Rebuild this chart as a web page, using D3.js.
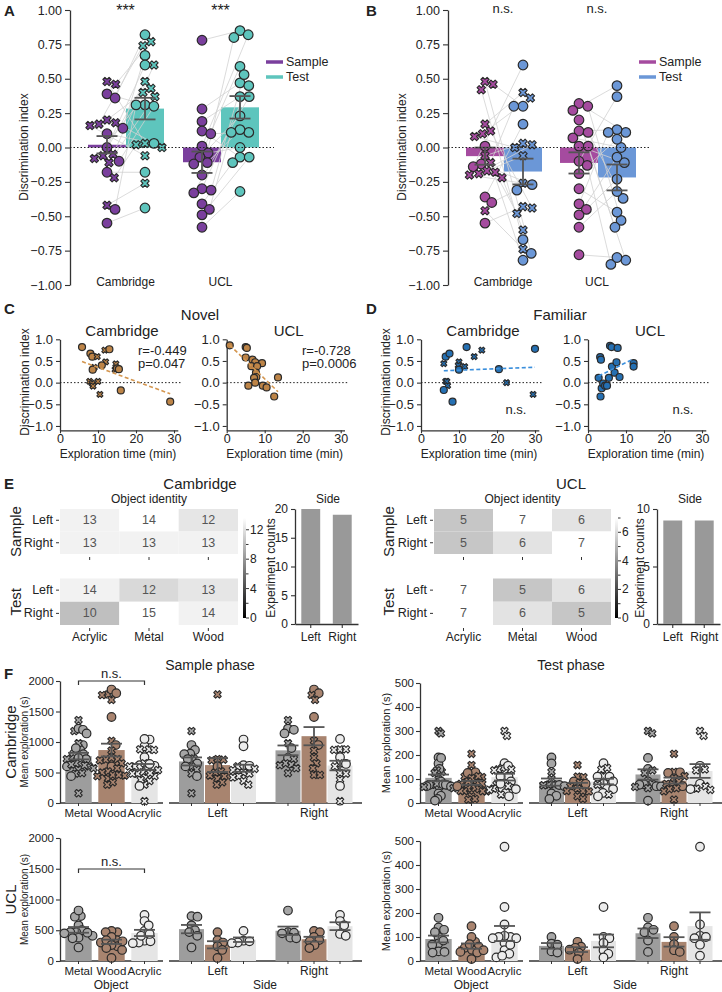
<!DOCTYPE html>
<html lang="en">
<head>
<meta charset="UTF-8">
<title>Object recognition - discrimination and exploration</title>
<script src="https://cdn.jsdelivr.net/npm/d3@7"></script>
<style>
  body { margin: 0; background: #fff; }
  svg text { font-family: "Liberation Sans", Arial, sans-serif; }
</style>
</head>
<body>
<svg id="fig" width="722" height="992"></svg>
<script>
// ---------------- data ----------------
const sites = ["Cambridge", "UCL"];
const phases = ["Sample", "Test"];

// A: novel object, discrimination index per session (sample[i] pairs with test[i])
const novCamSample = [0.48, 0.46, 0.39, 0.36, 0.20, 0.18, 0.17, 0.16, 0.14, 0.10, 0.00, -0.05, -0.06, -0.08, -0.10, -0.11, -0.18, -0.22, -0.42, -0.45, -0.55];
const novCamTest   = [0.03, 0.77, 0.31, 0.82, 0.40, 0.00, 0.74, -0.06, 0.67, 0.03, 0.60, 0.60, 0.48, 0.43, 0.30, 0.37, -0.18, 0.02, -0.26, 0.31, -0.44];
const novCamMarks  = "xxooxxxxoooxxxoxoxxoo";
const novUclSample = [0.78, 0.28, 0.19, 0.12, 0.10, 0.01, -0.04, -0.07, -0.11, -0.12, -0.20, -0.30, -0.31, -0.33, -0.41, -0.45, -0.49, -0.58];
const novUclTest   = [0.85, 0.47, 0.37, -0.07, 0.11, 0.82, 0.00, 0.59, 0.13, 0.23, 0.80, 0.45, 0.53, 0.37, -0.11, 0.11, -0.07, -0.32];

// B: familiar object
const famCamSample = [0.48, 0.46, 0.42, 0.17, 0.12, 0.10, 0.08, 0.01, -0.06, -0.11, -0.12, -0.14, -0.17, -0.18, -0.19, -0.20, -0.22, -0.36, -0.40, -0.46, -0.55];
const famCamTest   = [-0.77, 0.30, -0.67, 0.40, -0.44, 0.36, 0.00, -0.82, 0.03, 0.30, -0.27, 0.60, -0.06, -0.48, 0.02, -0.26, -0.60, 0.17, -0.31, -0.74, -0.43];
const famCamSampleMarks = "xxxxxxxoxxooxxxxxooxo";
const famCamTestMarks   = "oooxxxxoxoooxxxxxooxx";
const famUclSample = [0.32, 0.30, 0.27, 0.20, 0.12, 0.11, 0.07, 0.01, 0.01, -0.10, -0.13, -0.19, -0.30, -0.41, -0.45, -0.49, -0.58, -0.78];
const famUclTest   = [0.11, -0.53, 0.45, -0.82, 0.13, -0.37, 0.00, -0.11, -0.58, 0.37, -0.85, 0.06, -0.47, 0.11, -0.23, -0.07, -0.32, -0.80];

// C: novel, exploration time (min) vs discrimination index
const novCamTime = [5.8, 8, 8.5, 9, 8.6, 9.8, 11.8, 13, 12, 11, 14.7, 14.5, 15, 15.5, 16, 7.8, 8.5, 10, 8.7, 10.5, 29];
const novCamDI   = [0.82, 0.67, 0.60, 0.35, 0.30, 0.60, 0.75, 0.77, 0.48, 0.40, 0.43, 0.30, 0.33, 0.31, -0.18, 0.03, -0.02, 0.03, -0.08, -0.27, -0.44];
const novCamTimeMarks = "oooxoxxoxoxxoooxxxxxo";
const novUclTime = [0.8, 5, 5.3, 5, 6.8, 7.5, 9.3, 6.5, 8, 7.7, 7.8, 7.2, 5.7, 7.5, 9.5, 10.5, 12.5, 13.5];
const novUclDI   = [0.86, 0.82, 0.80, 0.58, 0.53, 0.47, 0.45, 0.38, 0.38, 0.23, 0.13, 0.11, -0.07, 0.00, -0.07, -0.11, -0.32, 0.12];

// D: familiar
const famCamTime = [6, 6.5, 7.5, 6.5, 6.8, 7, 6, 8.3, 10, 9.8, 10, 11.5, 12, 14, 16, 20.5, 22.5, 29.5, 30];
const famCamDI   = [0.44, 0.60, 0.67, 0.03, 0.03, -0.07, -0.17, -0.44, 0.48, 0.40, 0.30, 0.37, 0.82, 0.60, 0.75, 0.31, 0.00, -0.27, 0.78];
const famCamTimeMarks = "xooxxxooxxoxoxxoxxo";
const famUclTime = [3.2, 3.4, 5.8, 6.2, 7.8, 2.8, 3.3, 3.6, 4, 4.5, 5, 5.5, 6.3, 7, 7.5, 8.3, 12, 12];
const famUclDI   = [0.59, 0.53, 0.85, 0.82, 0.80, 0.11, -0.32, -0.13, -0.02, -0.07, -0.07, 0.11, 0.37, 0.23, 0.47, 0.13, 0.45, 0.37];

// E: experiment counts, rows Left/Right, columns Acrylic/Metal/Wood
const heatObjects = ["Acrylic", "Metal", "Wood"];
const sides = ["Left", "Right"];
const camSampleCounts = [[13, 14, 12], [13, 13, 13]];
const camTestCounts   = [[14, 12, 13], [10, 15, 14]];
const uclSampleCounts = [[5, 7, 6], [5, 6, 7]];
const uclTestCounts   = [[7, 5, 6], [7, 6, 5]];
const camSideCounts = [20, 19];
const uclSideCounts = [9, 9];

// F: mean exploration (s), per side, objects in order Metal / Wood / Acrylic
const fObjects = ["Metal", "Wood", "Acrylic"];
const camSampleLeft = [
  [1180, 950, 870, 810, 800, 730, 720, 650, 600, 600, 550, 480, 440, 160],
  [1780, 720, 710, 700, 600, 520, 500, 450, 440, 400, 340, 300],
  [1040, 930, 620, 610, 600, 560, 540, 500, 480, 440, 420, 360, 300]];
const camSampleLeftMarks = ["xooooxooxoxxox", "xxxxoxxxxxxx", "ooooxxxxxxxxx"];
const camSampleRight = [
  [1360, 1220, 1200, 1140, 980, 900, 740, 720, 650, 630, 620, 570, 490],
  [1860, 1800, 1770, 1690, 1410, 1020, 950, 860, 740, 650, 570, 460, 460],
  [1050, 880, 880, 870, 750, 650, 640, 600, 490, 480, 380, 280, 30]];
const camSampleRightMarks = ["xoooxooxxxxxx", "ooxxoxoxxxxxx", "oxxxoxoxxxxox"];
const camTestLeft = [
  [190, 165, 130, 100, 78, 76, 75, 74, 70, 40, 30, 17],
  [158, 110, 108, 90, 85, 80, 70, 60, 50, 50, 48, 28, 17],
  [166, 146, 140, 112, 110, 110, 90, 80, 76, 60, 58, 42, 35, 28]];
const camTestLeftMarks = ["ooxxxxoxoooo", "xxxoxoxxxxxxx", "oxxxooooxoooxo"];
const camTestRight = [
  [300, 290, 188, 142, 136, 125, 90, 80, 78, 76, 70, 69, 67, 62, 10],
  [205, 130, 128, 125, 112, 104, 90, 80, 80, 70, 62, 58, 49, 14],
  [300, 280, 155, 140, 136, 80, 70, 60, 58, 55]];
const camTestRightMarks = ["xxooxxoxooooxxo", "xxooxxxxxoxxxx", "xxoxxoxxox"];
const uclSampleLeft  = [[730, 720, 580, 500, 470, 410, 220], [470, 340, 300, 240, 180, 50], [490, 330, 320, 300, 290]];
const uclSampleRight = [[820, 470, 460, 450, 380, 370], [490, 470, 390, 340, 320, 260, 210], [750, 650, 580, 440, 410]];
const uclTestLeft    = [[100, 72, 68, 40, 35], [80, 60, 55, 47, 35, 8], [225, 100, 95, 75, 45, 30, 15]];
const uclTestRight   = [[180, 140, 130, 120, 85, 38], [145, 100, 70, 45, 38], [476, 152, 105, 100, 95, 68, 22]];

// ---------------- helpers ----------------
const svg = d3.select("#fig");
const ink = "#333";
const edge = "#2a2a2a";
const errColor = "#555";

function text(x, y, s, size, o = {}) {
  const t = svg.append("text")
    .attr("x", x).attr("y", y)
    .attr("font-size", size)
    .attr("text-anchor", o.anchor || "middle")
    .attr("dominant-baseline", "central")
    .attr("font-weight", o.bold ? "bold" : null)
    .attr("fill", o.fill || "#222")
    .text(s);
  if (o.rot) t.attr("transform", `rotate(${o.rot},${x},${y})`);
  return t;
}

function styleAxis(g, size) {
  g.attr("font-size", size).attr("color", ink);
  g.select(".domain").attr("stroke-width", 1.3);
  g.selectAll(".tick line").attr("stroke-width", 1.1);
  g.selectAll(".tick text").attr("fill", "#222");
  return g;
}

// simple beeswarm: horizontal offsets so points (spacing d) don't overlap,
// squeezed to stay within +-lim px
function swarm(vals, y, d, lim = Infinity) {
  const order = d3.range(vals.length).sort((a, b) => vals[b] - vals[a]);
  const placed = [];
  const xs = [];
  order.forEach(i => {
    const py = y(vals[i]);
    const near = placed.filter(p => Math.abs(p.y - py) < d);
    const cands = [0];
    near.forEach(p => {
      const dx = Math.sqrt(d * d - (p.y - py) ** 2);
      cands.push(p.x + dx, p.x - dx);
    });
    cands.sort((a, b) => Math.abs(a) - Math.abs(b));
    const ok = cands.find(c => near.every(p => (p.x - c) ** 2 + (p.y - py) ** 2 >= d * d - 0.01));
    placed.push({ x: ok, y: py });
    xs[i] = ok;
  });
  const w = d3.max(xs, Math.abs);
  const k = w > lim ? lim / w : 1;
  return xs.map(x => x * k);
}

function dot(g, x, y, r, fill, mark) {
  if (mark === "x") {
    g.append("path")
      .attr("d", d3.symbol(d3.symbolCross, 1.9 * r * r)())
      .attr("transform", `translate(${x},${y}) rotate(45)`)
      .attr("fill", fill).attr("stroke", edge).attr("stroke-width", 1.1).attr("stroke-linejoin", "round");
  } else {
    g.append("circle").attr("cx", x).attr("cy", y).attr("r", r)
      .attr("fill", fill).attr("stroke", edge).attr("stroke-width", 1.2);
  }
}

const sem = v => d3.deviation(v) / Math.sqrt(v.length);

function errBar(g, x, vals, y, cap) {
  const m = d3.mean(vals), s = sem(vals);
  const seg = (x1, y1, x2, y2) => g.append("line")
    .attr("x1", x1).attr("y1", y1).attr("x2", x2).attr("y2", y2)
    .attr("stroke", errColor).attr("stroke-width", 1.8);
  seg(x, y(m - s), x, y(m + s));
  seg(x - cap / 2, y(m - s), x + cap / 2, y(m - s));
  seg(x - cap / 2, y(m + s), x + cap / 2, y(m + s));
}

function bar(g, x, w, vals, y, fill) {
  const m = d3.mean(vals);
  g.append("rect").attr("x", x).attr("width", w)
    .attr("y", Math.min(y(m), y(0))).attr("height", Math.abs(y(m) - y(0)))
    .attr("fill", fill);
}

// ---------------- A / B ----------------
function drawIndex(o) {
  const g = svg.append("g");
  const y = d3.scaleLinear().domain([-1, 1]).range([285, 10]);
  const ax = g.append("g").attr("transform", `translate(${o.axisX},0)`)
    .call(d3.axisLeft(y).tickValues(d3.range(-1, 1.001, 0.25)).tickFormat(d3.format(".2f")).tickSize(5).tickSizeOuter(0));
  styleAxis(ax, 12.5);
  text(o.axisX - 46, 147, "Discrimination index", 12, { rot: -90 });
  text(o.letterX, 10, o.letter, 15, { bold: true, anchor: "start" });

  const site = d3.scaleBand().domain(sites).range(o.range);
  const phase = d3.scaleBand().domain(phases).range([10, 86]);
  const layers = ["bars", "lines", "pts", "err"].map(() => g.append("g"));

  sites.forEach((s, si) => {
    const groups = o.data[si];
    const marks = o.marks[si];
    const pos = groups.map((vals, pi) => {
      const x0 = site(s) + phase(phases[pi]);
      const cx = x0 + phase.bandwidth() / 2;
      bar(layers[0], x0, phase.bandwidth(), vals, y, o.colors[pi]);
      const off = swarm(vals, y, 9.2, 17);
      return vals.map((v, i) => [cx + off[i], y(v), cx]);
    });
    pos[0].forEach((p, i) => {
      const q = pos[1][i];
      layers[1].append("line").attr("x1", p[0]).attr("y1", p[1]).attr("x2", q[0]).attr("y2", q[1])
        .attr("stroke", "#d2d2d2").attr("stroke-width", 0.8);
    });
    groups.forEach((vals, pi) => {
      vals.forEach((v, i) => dot(layers[2], pos[pi][i][0], pos[pi][i][1], 4.8, o.colors[pi], marks[pi] ? marks[pi][i] : "o"));
      errBar(layers[3], pos[pi][0][2], vals, y, 21);
    });
    const cx = site(s) + site.bandwidth() / 2;
    text(cx, 282, s, 12);
    text(cx, o.statY[si], o.stats[si], o.statSize);
  });

  g.append("line").attr("x1", o.axisX).attr("x2", o.range[1] + 6).attr("y1", y(0)).attr("y2", y(0))
    .attr("stroke", "#222").attr("stroke-width", 1.1).attr("stroke-dasharray", "1.5,2");

  phases.forEach((p, pi) => {
    const ly = 62 + pi * 15;
    g.append("line").attr("x1", o.legendX).attr("x2", o.legendX + 17).attr("y1", ly).attr("y2", ly)
      .attr("stroke", o.colors[pi]).attr("stroke-width", 3.5);
    text(o.legendX + 20, ly, p, 12.5, { anchor: "start" });
  });
}

drawIndex({
  axisX: 70, range: [78, 268], letter: "A", letterX: 4, legendX: 266,
  colors: ["#7a3f9d", "#5ec5bd"],
  data: [[novCamSample, novCamTest], [novUclSample, novUclTest]],
  marks: [[novCamMarks, novCamMarks], [null, null]],
  stats: ["***", "***"], statY: [10, 10], statSize: 16
});
drawIndex({
  axisX: 448, range: [456, 644], letter: "B", letterX: 366, legendX: 639,
  colors: ["#a54b9f", "#6b97d7"],
  data: [[famCamSample, famCamTest], [famUclSample, famUclTest]],
  marks: [[famCamSampleMarks, famCamTestMarks], [null, null]],
  stats: ["n.s.", "n.s."], statY: [8, 8], statSize: 13
});

// ---------------- C / D ----------------
function drawScatter(o) {
  const g = svg.append("g");
  const x = d3.scaleLinear().domain([0, 31]).range([o.x0, o.x0 + 117.8]);
  const y = d3.scaleLinear().domain([-1.1, 1]).range([430.3, 339.3]);
  styleAxis(g.append("g").attr("transform", "translate(0,430.3)")
    .call(d3.axisBottom(x).tickValues([0, 10, 20, 30]).tickSize(3).tickPadding(1).tickSizeOuter(0)), 12.5);
  styleAxis(g.append("g").attr("transform", `translate(${o.x0},0)`)
    .call(d3.axisLeft(y).tickValues([-1, -0.5, 0, 0.5, 1]).tickFormat(d3.format(".1f")).tickSize(4).tickSizeOuter(0)), 13);
  g.append("line").attr("x1", o.x0).attr("x2", o.x0 + 122).attr("y1", y(0)).attr("y2", y(0))
    .attr("stroke", "#222").attr("stroke-width", 1).attr("stroke-dasharray", "1.5,2");

  o.t.forEach((t, i) => dot(g, x(t), y(o.di[i]), 3.5, o.color, o.marks ? o.marks[i] : "o"));

  const mx = d3.mean(o.t), my = d3.mean(o.di);
  const b = d3.sum(o.t, (t, i) => (t - mx) * (o.di[i] - my)) / d3.sum(o.t, t => (t - mx) ** 2);
  const [lo, hi] = d3.extent(o.t);
  g.append("line")
    .attr("x1", x(lo)).attr("y1", y(my + b * (lo - mx)))
    .attr("x2", x(hi)).attr("y2", y(my + b * (hi - mx)))
    .attr("stroke", o.lineColor).attr("stroke-width", 1.6).attr("stroke-dasharray", "4,2.5");

  text(o.x0 + 62, 330, o.title, 15);
  text(o.x0 + 58, 454, "Exploration time (min)", 12);
  o.notes.forEach((n, i) => text(o.noteX, o.noteY + i * 13.5, n, 13, { anchor: o.noteAnchor || "start" }));
}

text(4, 308, "C", 15, { bold: true, anchor: "start" });
text(200, 314, "Novel", 15);
text(25, 382, "Discrimination index", 12, { rot: -90 });
drawScatter({ x0: 60, t: novCamTime, di: novCamDI, marks: novCamTimeMarks, color: "#bd8447", lineColor: "#d4964f",
  title: "Cambridge", notes: ["r=-0.449", "p=0.047"], noteX: 138, noteY: 350 });
drawScatter({ x0: 226.7, t: novUclTime, di: novUclDI, color: "#bd8447", lineColor: "#d4964f",
  title: "UCL", notes: ["r=-0.728", "p=0.0006"], noteX: 302, noteY: 350 });

text(366, 308, "D", 15, { bold: true, anchor: "start" });
text(560, 314, "Familiar", 15);
text(386, 382, "Discrimination index", 12, { rot: -90 });
drawScatter({ x0: 421, t: famCamTime, di: famCamDI, marks: famCamTimeMarks, color: "#2570b3", lineColor: "#3b8fdc",
  title: "Cambridge", notes: ["n.s."], noteX: 516, noteY: 409, noteAnchor: "middle" });
drawScatter({ x0: 588, t: famUclTime, di: famUclDI, color: "#2570b3", lineColor: "#3b8fdc",
  title: "UCL", notes: ["n.s."], noteX: 683, noteY: 409, noteAnchor: "middle" });

// ---------------- E ----------------
const grad = svg.append("defs").append("linearGradient").attr("id", "cbar")
  .attr("x1", 0).attr("x2", 0).attr("y1", 1).attr("y2", 0);
grad.append("stop").attr("offset", 0).attr("stop-color", "#000");
grad.append("stop").attr("offset", 1).attr("stop-color", "#fff");

function drawCounts(o) {
  const g = svg.append("g");
  const col = d3.scaleBand().domain(heatObjects).range(o.cols);
  const blocks = [
    { name: "Sample", rows: [509, 554], counts: o.sample },
    { name: "Test", rows: [578.5, 625], counts: o.test }];
  blocks.forEach(b => {
    const row = d3.scaleBand().domain(sides).range(b.rows);
    const vmax = d3.max(b.counts.flat());
    const shade = d3.scaleLinear().domain([vmax - o.span, vmax]).range(["#000", "#fff"]).clamp(true);
    b.counts.forEach((r, ri) => r.forEach((c, ci) => {
      const cx = col(heatObjects[ci]), cy = row(sides[ri]);
      g.append("rect").attr("x", cx).attr("y", cy).attr("width", col.bandwidth()).attr("height", row.bandwidth())
        .attr("fill", shade(c));
      text(cx + col.bandwidth() / 2, cy + row.bandwidth() / 2, c, 12.5, { fill: "#555" });
    }));
    sides.forEach(sd => {
      const cy = row(sd) + row.bandwidth() / 2;
      text(o.cols[0] - 7, cy, sd, 12.5, { anchor: "end" });
      g.append("line").attr("x1", o.cols[0] - 4).attr("x2", o.cols[0] - 1).attr("y1", cy).attr("y2", cy)
        .attr("stroke", ink).attr("stroke-width", 1);
    });
    heatObjects.forEach(ob => {
      const cx = col(ob) + col.bandwidth() / 2;
      g.append("line").attr("x1", cx).attr("x2", cx).attr("y1", b.rows[1] + 3).attr("y2", b.rows[1] + 6)
        .attr("stroke", ink).attr("stroke-width", 1);
    });
    text(o.nameX, (b.rows[0] + b.rows[1]) / 2, b.name, 15, { rot: -90 });
  });
  heatObjects.forEach(ob => text(col(ob) + col.bandwidth() / 2, 637, ob, 12));
  text(o.title[0], 483, o.title[1], 15);
  text((o.cols[0] + o.cols[1]) / 2, 499, "Object identity", 12);

  // colorbar
  const cb = d3.scaleLinear().domain([0, o.cbMax]).range([618, 518]);
  g.append("rect").attr("x", o.cbX).attr("y", 518).attr("width", 3).attr("height", 100).attr("fill", "url(#cbar)");
  o.cbMinor.forEach(v => g.append("line").attr("x1", o.cbX + 3).attr("x2", o.cbX + 5.5).attr("y1", cb(v)).attr("y2", cb(v))
    .attr("stroke", ink).attr("stroke-width", 1));
  o.cbTicks.forEach(v => {
    g.append("line").attr("x1", o.cbX + 3).attr("x2", o.cbX + 6).attr("y1", cb(v)).attr("y2", cb(v))
      .attr("stroke", ink).attr("stroke-width", 1);
    text(o.cbX + 7, cb(v), v, 12, { anchor: "start" });
  });

  // side counts
  const y = d3.scaleLinear().domain([0, o.sideMax]).range([624, 509]);
  const x = d3.scaleBand().domain(sides).range([o.sideX, o.sideX + 63]).paddingInner(0.4).paddingOuter(0.2);
  styleAxis(g.append("g").attr("transform", `translate(${o.sideX},0)`)
    .call(d3.axisLeft(y).ticks(o.sideMax / 5).tickSize(4).tickSizeOuter(0)), 12);
  styleAxis(g.append("g").attr("transform", "translate(0,624)")
    .call(d3.axisBottom(x).tickSize(4).tickSizeOuter(0).tickFormat("")), 12);
  o.side.forEach((c, i) => g.append("rect").attr("x", x(sides[i])).attr("width", x.bandwidth())
    .attr("y", y(c)).attr("height", y(0) - y(c)).attr("fill", "#999"));
  sides.forEach(sd => text(x(sd) + x.bandwidth() / 2, 637, sd, 12));
  text(o.sideX + 33, 499, "Side", 12);
  text(o.sideX - o.countsLabelDX, 568, "Experiment counts", 12, { rot: -90 });
}

text(4, 483, "E", 15, { bold: true, anchor: "start" });
drawCounts({ cols: [60, 238], sample: camSampleCounts, test: camTestCounts, span: 20, nameX: 15,
  title: [200, "Cambridge"], cbX: 243, cbMax: 13.6, cbTicks: [0, 4, 8, 12], cbMinor: [2, 6, 10],
  side: camSideCounts, sideMax: 20, sideX: 295, countsLabelDX: 24 });
drawCounts({ cols: [434, 611], sample: uclSampleCounts, test: uclTestCounts, span: 9, nameX: 388,
  title: [571, "UCL"], cbX: 615, cbMax: 7, cbTicks: [0, 2, 4, 6], cbMinor: [1, 3, 5, 7],
  side: uclSideCounts, sideMax: 10, sideX: 657, countsLabelDX: 17 });

// ---------------- F ----------------
const fBar = ["#9d9d9d", "#a8846f", "#e5e5e5"];
const fDot = ["#a6a6a6", "#a9846f", "#ececec"];

function drawExplo(o) {
  const g = svg.append("g");
  const y = d3.scaleLinear().domain([0, o.max]).range([o.yBase, o.yTop]);
  styleAxis(g.append("g").attr("transform", `translate(${o.ox + 60},0)`)
    .call(d3.axisLeft(y).tickValues(d3.range(0, o.max + 1, o.step)).tickFormat(d3.format("d")).tickSize(4).tickPadding(2).tickSizeOuter(0)), 11.5);
  const objX = d3.scaleBand().domain(fObjects).range([o.ox + 62, o.ox + 161]).paddingInner(0.2).paddingOuter(0.1);
  const sideX = d3.scaleBand().domain(sides).range([o.ox + 169, o.ox + 362]);
  const inner = d3.scaleBand().domain(fObjects).range([10, 87]).paddingInner(0.04);
  [[o.ox + 60, o.ox + 163], [o.ox + 169, o.ox + 362]].forEach(([a, b]) =>
    g.append("line").attr("x1", a).attr("x2", b).attr("y1", o.yBase).attr("y2", o.yBase)
      .attr("stroke", ink).attr("stroke-width", 1.3));

  const mk = (m, k) => (m ? m[k] : "");
  const groups = [];
  fObjects.forEach((ob, k) => groups.push({
    x0: objX(ob), w: objX.bandwidth(), k, lim: 15,
    vals: o.left[k].concat(o.right[k]),
    marks: mk(o.leftMarks, k).padEnd(o.left[k].length, "o") + mk(o.rightMarks, k).padEnd(o.right[k].length, "o")
  }));
  [o.left, o.right].forEach((sideVals, si) => {
    const sm = si ? o.rightMarks : o.leftMarks;
    fObjects.forEach((ob, k) => groups.push({
      x0: sideX(sides[si]) + inner(ob), w: inner.bandwidth(), k, lim: 13,
      vals: sideVals[k], marks: mk(sm, k).padEnd(sideVals[k].length, "o")
    }));
  });
  const lb = g.append("g"), lp = g.append("g"), le = g.append("g");
  groups.forEach(gr => {
    const cx = gr.x0 + gr.w / 2;
    bar(lb, gr.x0, gr.w, gr.vals, y, fBar[gr.k]);
    const off = swarm(gr.vals, y, 6, gr.lim);
    gr.vals.forEach((v, i) => dot(lp, cx + off[i], y(v), 4.3, fDot[gr.k], gr.marks[i]));
    errBar(le, cx, gr.vals, y, 21);
    g.append("line").attr("x1", cx).attr("x2", cx).attr("y1", o.yBase).attr("y2", o.yBase + 3)
      .attr("stroke", ink).attr("stroke-width", 1);
  });

  fObjects.forEach(ob => text(objX(ob) + objX.bandwidth() / 2, o.yBase + 10, ob, 11.5));
  sides.forEach(sd => text(sideX(sd) + 48.5, o.yBase + 10, sd, 12));
  if (o.axisTitles) {
    text(o.ox + 111, o.yBase + 24, "Object", 12);
    text(o.ox + 265, o.yBase + 24, "Side", 12);
  }
  if (o.bracketY) {
    const a = objX("Metal") + objX.bandwidth() / 2, b = objX("Acrylic") + objX.bandwidth() / 2;
    g.append("path").attr("d", `M${a},${o.bracketY + 4}V${o.bracketY}H${b}V${o.bracketY + 4}`)
      .attr("fill", "none").attr("stroke", ink).attr("stroke-width", 1.2);
    text((a + b) / 2, o.bracketY - 8, "n.s.", 13);
  }
  const my = (o.yBase + o.yTop) / 2;
  text(o.ox + o.labelX, my, "Mean exploration (s)", o.labelSize, { rot: -90 });
  if (o.site) text(o.ox + 10, my, o.site, 15, { rot: -90 });
}

text(4, 673, "F", 15, { bold: true, anchor: "start" });
text(210, 665, "Sample phase", 14);
text(571, 665, "Test phase", 14);
drawExplo({ ox: 0, yBase: 803, yTop: 681, max: 2000, step: 500, left: camSampleLeft, right: camSampleRight,
  leftMarks: camSampleLeftMarks, rightMarks: camSampleRightMarks, bracketY: 681, site: "Cambridge", labelX: 24, labelSize: 10 });
drawExplo({ ox: 360, yBase: 803, yTop: 683, max: 500, step: 100, left: camTestLeft, right: camTestRight,
  leftMarks: camTestLeftMarks, rightMarks: camTestRightMarks, labelX: 26, labelSize: 11 });
drawExplo({ ox: 0, yBase: 961, yTop: 838, max: 2000, step: 500, left: uclSampleLeft, right: uclSampleRight,
  bracketY: 869, site: "UCL", labelX: 24, labelSize: 10, axisTitles: true });
drawExplo({ ox: 360, yBase: 961, yTop: 841, max: 500, step: 100, left: uclTestLeft, right: uclTestRight,
  labelX: 26, labelSize: 11, axisTitles: true });
</script>
</body>
</html>
